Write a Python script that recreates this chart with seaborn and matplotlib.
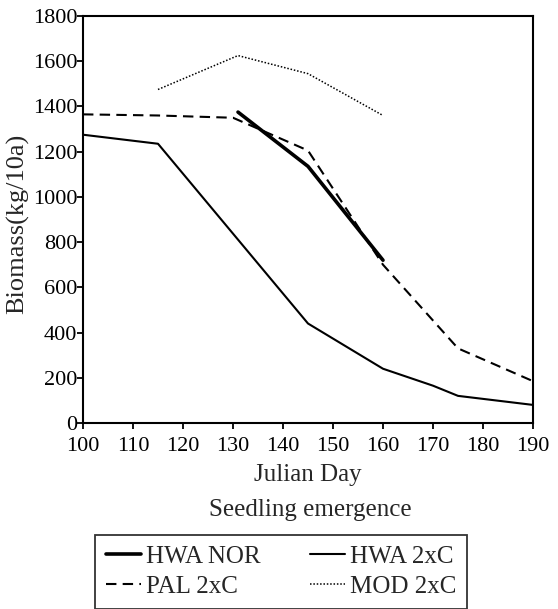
import matplotlib
matplotlib.use("Agg")
import matplotlib.pyplot as plt
from matplotlib.lines import Line2D
import numpy as np
import pandas as pd
import seaborn as sns

# values
hwa_nor_day = [131, 145, 160]
hwa_nor_bio = [1375, 1135, 720]

hwa_2xc_day = [100, 115, 145, 160, 170, 175, 190]
hwa_2xc_bio = [1275, 1235, 440, 240, 165, 120, 80]

pal_2xc_day = [100, 115, 130, 145, 160, 175, 190]
pal_2xc_bio = [1365, 1360, 1350, 1205, 700, 330, 185]

mod_2xc_day = [115, 131, 145, 160]
mod_2xc_bio = [1475, 1625, 1545, 1360]

x_ticks = list(range(100, 191, 10))
y_ticks = list(range(0, 1801, 200))

sns.set_style("ticks")
plt.rcParams['font.family'] = ['Liberation Serif', 'DejaVu Serif']
plt.rcParams['axes.linewidth'] = 1.5

fig = plt.figure(figsize=(5.58, 6.09), dpi=100)
ax = fig.add_axes([83 / 558, 1 - 423 / 609, 450 / 558, 407 / 609])

series = [
    ("HWA NOR", hwa_nor_day, hwa_nor_bio, dict(lw=2.6, ls="-")),
    ("HWA 2xC", hwa_2xc_day, hwa_2xc_bio, dict(lw=1.5, ls="-")),
    ("PAL 2xC", pal_2xc_day, pal_2xc_bio, dict(lw=1.5, ls=(0, (5, 3)))),
    ("MOD 2xC", mod_2xc_day, mod_2xc_bio, dict(lw=1.1, ls=(0, (1, 1.2)))),
]

handles = []
for name, days, bio, style in series:
    df = pd.DataFrame({"day": days, "bio": bio})
    sns.lineplot(data=df, x="day", y="bio", ax=ax, color="black",
                 linewidth=style["lw"], linestyle=style["ls"], sort=False)
    handles.append(Line2D([], [], color="black", lw=style["lw"], ls=style["ls"], label=name))

ax.set_xlim(100, 190)
ax.set_ylim(0, 1800)
ax.set_xticks(x_ticks)
ax.set_yticks(y_ticks)
ax.tick_params(axis='both', direction='out', length=4, width=1.3, labelsize=16, colors="black")
ax.tick_params(axis='y', pad=0)
ax.tick_params(axis='x', pad=6)
for s in ax.spines.values():
    s.set_visible(True)
    s.set_color("black")

ax.set_xlabel("Julian Day", fontsize=18)
ax.set_ylabel("Biomass(kg/10a)", fontsize=19)
ax.xaxis.set_label_coords(0.5, -0.1)
ax.yaxis.set_label_coords(-0.12, 0.49)

fig.text(310 / 558, 1 - 510 / 609, "Seedling emergence", fontsize=18, ha="center", va="center")

# legend order: row by row (HWA NOR, HWA 2xC / PAL 2xC, MOD 2xC)
order = [handles[0], handles[2], handles[1], handles[3]]
leg = fig.legend(handles=order, ncol=2, loc="upper left",
                 bbox_to_anchor=(95 / 558, 1 - 535 / 609), borderaxespad=0,
                 fontsize=18, frameon=True, fancybox=False, edgecolor="black",
                 handlelength=1.4, handletextpad=0.2, columnspacing=2.0,
                 labelspacing=0.3, borderpad=0.42)
leg.get_frame().set_linewidth(1.3)

plt.savefig("out.png", dpi=100)
